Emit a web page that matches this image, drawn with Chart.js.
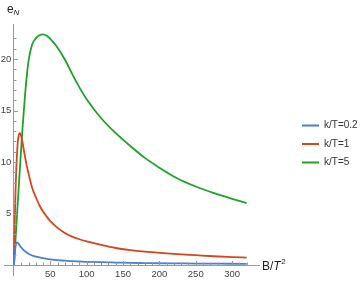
<!DOCTYPE html>
<html>
<head>
<meta charset="utf-8">
<script src="https://cdn.jsdelivr.net/npm/chart.js@4"></script>
<style>
  html, body { margin: 0; padding: 0; background: #fff; }
  #wrap { width: 363px; height: 284px; }
</style>
</head>
<body>
<div id="wrap"><canvas id="chart"></canvas></div>
<script>
// B/T^2 sample points (x axis)
const xs = [0, 1, 2, 3, 4, 5, 6, 8, 10, 12, 15, 18, 20, 25, 30, 35, 40, 45, 50,
            60, 70, 80, 90, 100, 120, 140, 160, 180, 200, 225, 250, 275, 300, 320];
// e_N for k/T = 0.2
const eN02 = [0, 1.0, 1.7, 2.1, 2.2, 2.15, 2.1, 1.9, 1.7, 1.55, 1.35, 1.2, 1.1, 0.92, 0.82, 0.74, 0.67, 0.6, 0.55,
              0.47, 0.42, 0.37, 0.34, 0.31, 0.27, 0.24, 0.21, 0.19, 0.17, 0.155, 0.14, 0.13, 0.12, 0.11];
// e_N for k/T = 1
const eN1 = [0.8, 4, 6.8, 9, 10.5, 11.7, 12.4, 12.8, 12.5, 11.8, 10.6, 9.5, 8.9, 7.5, 6.6, 5.8, 5.2, 4.7, 4.25,
             3.6, 3.1, 2.75, 2.5, 2.3, 1.95, 1.65, 1.45, 1.3, 1.18, 1.05, 0.95, 0.85, 0.77, 0.72];
// e_N for k/T = 5
const eN5 = [0, 1.15, 2.3, 3.45, 4.6, 5.8, 6.9, 9.2, 11.4, 13.5, 16.3, 18.6, 19.8, 21.4, 22.0, 22.3, 22.4, 22.25, 21.95,
             21.1, 19.95, 18.55, 17.25, 16.1, 14.25, 12.8, 11.55, 10.4, 9.45, 8.4, 7.62, 6.98, 6.43, 6.0];

const seriesLabels = ["k/T=0.2", "k/T=1", "k/T=5"];
const seriesColors = ["#4a7fd6", "#d6451b", "#1ea22c"];
const xTickLabels = [50, 100, 150, 200, 250, 300];
const yTickLabels = [5, 10, 15, 20];

const axisColor = "#999";
const tickFont = { family: "Liberation Sans, Arial, sans-serif", size: 9.5 };
const legendFont = { family: "Liberation Sans, Arial, sans-serif", size: 10 };
const legendBoxWidth = 104; // place réservée à droite (titre B/T² + légende)
const legendShift = 34.5;   // la légende commence plus loin à droite

function toPoints(ys) {
    return xs.map((x, i) => ({ x: x, y: ys[i] }));
}

// petits traits de graduation (majeurs / mineurs) + titres des axes
const axesDeco = {
    id: "axesDeco",
    beforeUpdate(chart) {
        const lg = chart.legend;
        if (lg && !lg._wide) {
            const fit = lg.fit;
            lg.fit = function () { fit.call(this); this.width = legendBoxWidth; };
            lg._wide = true;
        }
    },
    afterLayout(chart) {
        const lg = chart.legend;
        lg.left += legendShift; lg.right += legendShift;
        lg.top -= 8; lg.bottom -= 8;
    },
    afterDraw(chart) {
        const ctx = chart.ctx;
        const sx = chart.scales.x, sy = chart.scales.y;
        const x0 = sx.getPixelForValue(0), y0 = sy.getPixelForValue(0);
        ctx.save();
        ctx.strokeStyle = axisColor;
        ctx.lineWidth = 1;
        ctx.beginPath();
        sx.ticks.forEach(t => {
            if (t.value <= 0 || t.value % 10 !== 0) return;
            const len = xTickLabels.includes(t.value) ? 4 : 2.5;
            const px = Math.round(sx.getPixelForValue(t.value)) + 0.5;
            ctx.moveTo(px, y0); ctx.lineTo(px, y0 - len);
        });
        sy.ticks.forEach(t => {
            if (t.value <= 0 || !Number.isInteger(t.value)) return;
            const len = yTickLabels.includes(t.value) ? 4 : 2.5;
            const py = Math.round(sy.getPixelForValue(t.value)) + 0.5;
            ctx.moveTo(x0, py); ctx.lineTo(x0 + len, py);
        });
        ctx.stroke();

        // titres
        ctx.fillStyle = "#222";
        ctx.textBaseline = "alphabetic";
        ctx.font = "12px Liberation Sans, Arial, sans-serif";
        ctx.fillText("e", 7, 13);
        ctx.font = "italic 8px Liberation Sans, Arial, sans-serif";
        ctx.fillText("N", 13.5, 15);

        let bx = sx.right + 3, by = y0 + 5;
        ctx.font = "12px Liberation Sans, Arial, sans-serif";
        ctx.fillText("B/", bx, by);
        bx += ctx.measureText("B/").width;
        ctx.font = "italic 12px Liberation Sans, Arial, sans-serif";
        ctx.fillText("T", bx, by);
        bx += ctx.measureText("T").width + 0.5;
        ctx.font = "8px Liberation Sans, Arial, sans-serif";
        ctx.fillText("2", bx, by - 6);
        ctx.restore();
    }
};

const data = {
    datasets: seriesLabels.map((lab, i) => ({
        label: lab,
        data: toPoints([eN02, eN1, eN5][i]),
        borderColor: seriesColors[i],
        backgroundColor: seriesColors[i],
        borderWidth: 1.8,
        pointRadius: 0,
        cubicInterpolationMode: "monotone",
    })),
};

const config = {
    type: "line",
    data: data,
    plugins: [axesDeco],
    options: {
        responsive: true,
        maintainAspectRatio: false,
        animation: false,
        layout: { padding: { left: 0, top: 24, right: 0, bottom: 4 } },
        plugins: {
            legend: {
                position: "right",
                labels: {
                    usePointStyle: true,
                    pointStyle: "line",
                    pointStyleWidth: 17,
                    boxHeight: 2,
                    padding: 8.5,
                    font: legendFont,
                    color: "#333",
                },
            },
            tooltip: { enabled: false },
        },
        scales: {
            x: {
                type: "linear",
                min: -13.7,
                max: 337,
                position: { y: 0 },
                grid: { display: false, drawTicks: false },
                border: { color: axisColor, width: 1 },
                ticks: {
                    stepSize: 10,
                    autoSkip: false,
                    maxRotation: 0,
                    padding: 4,
                    font: tickFont,
                    color: "#444",
                    callback: v => (xTickLabels.includes(v) ? String(v) : ""),
                },
            },
            y: {
                type: "linear",
                min: -1,
                max: 23.4,
                position: { x: 0 },
                grid: { display: false, drawTicks: false },
                border: { color: axisColor, width: 1 },
                ticks: {
                    stepSize: 1,
                    autoSkip: false,
                    font: tickFont,
                    color: "#444",
                    // espace final : petit écart entre le nombre et l'axe
                    callback: v => (yTickLabels.includes(v) ? v + " " : ""),
                },
            },
        },
    },
};

const chart = new Chart(document.getElementById("chart"), config);
</script>
</body>
</html>
